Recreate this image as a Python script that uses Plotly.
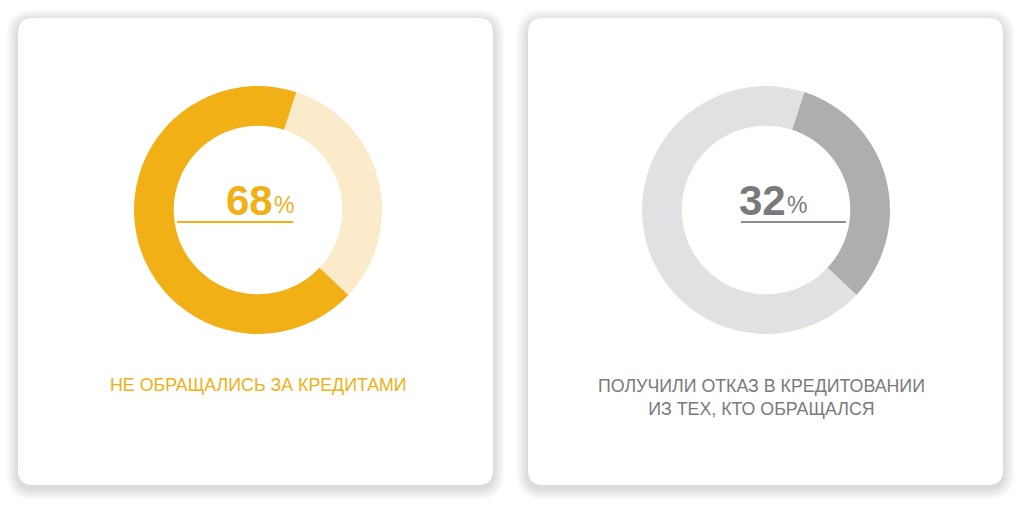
import plotly.graph_objects as go

# ---- data ----
left_values = [32, 68]          # [rest, main]
left_colors = ["#FCEBCB", "#F0B016"]
left_pct = "68"
left_label = "НЕ ОБРАЩАЛИСЬ ЗА КРЕДИТАМИ"

right_values = [32, 68]         # [main, rest]
right_colors = ["#AEAEB1", "#E1E1E3"]
right_pct = "32"
right_label = "ПОЛУЧИЛИ ОТКАЗ В КРЕДИТОВАНИИ<br>ИЗ ТЕХ, КТО ОБРАЩАЛСЯ"

W, H = 1024, 514
GOLD = "#F0B016"
GRAY_TXT = "#7A7A7D"
FONT = "Liberation Sans, Arial, sans-serif"


def rrect(x0, y0, x1, y1, r):
    return (f"M {x0+r},{y0} L {x1-r},{y0} Q {x1},{y0} {x1},{y0+r} "
            f"L {x1},{y1-r} Q {x1},{y1} {x1-r},{y1} L {x0+r},{y1} "
            f"Q {x0},{y1} {x0},{y1-r} L {x0},{y0+r} Q {x0},{y0} {x0+r},{y0} Z")


cards = [(18, 18, 493, 485), (528, 18, 1003, 485)]
shapes = []
for (x0, y0, x1, y1) in cards:
    for d in range(12, 0, -1):
        shapes.append(dict(type="path", xref="x", yref="y", layer="below",
                           path=rrect(x0 - d, y0 - d + 3, x1 + d, y1 + d + 3, 15 + d),
                           fillcolor="rgba(0,0,0,0.012)", line=dict(width=0)))
    shapes.append(dict(type="path", xref="x", yref="y", layer="below",
                       path=rrect(x0, y0, x1, y1, 15),
                       fillcolor="white", line=dict(width=0)))

# underlines
shapes.append(dict(type="line", xref="x", yref="y", x0=177, x1=293, y0=222, y1=222,
                   line=dict(color=GOLD, width=2)))
shapes.append(dict(type="line", xref="x", yref="y", x0=741, x1=846, y0=222, y1=222,
                   line=dict(color="#8C8C8F", width=2)))


def dom(cx, cy, r):
    return dict(x=[(cx - r) / W, (cx + r) / W], y=[1 - (cy + r) / H, 1 - (cy - r) / H])


fig = go.Figure()
fig.add_trace(go.Scatter(x=[0, W], y=[0, H], mode="markers",
                         marker=dict(opacity=0), hoverinfo="skip", showlegend=False))
fig.add_trace(go.Pie(values=left_values, marker=dict(colors=left_colors, line=dict(width=0)),
                     hole=0.68, sort=False, direction="clockwise", rotation=18,
                     textinfo="none", hoverinfo="skip", showlegend=False,
                     domain=dom(258, 210, 124)))
fig.add_trace(go.Pie(values=right_values, marker=dict(colors=right_colors, line=dict(width=0)),
                     hole=0.68, sort=False, direction="clockwise", rotation=18,
                     textinfo="none", hoverinfo="skip", showlegend=False,
                     domain=dom(766, 210, 124)))

ann = []
# big numbers
ann.append(dict(x=275, y=200, text=f"<b>{left_pct}</b>", xanchor="right", yanchor="middle",
                font=dict(size=42, color=GOLD, family=FONT)))
ann.append(dict(x=272, y=205, text="%", xanchor="left", yanchor="middle",
                font=dict(size=23, color=GOLD, family=FONT)))
ann.append(dict(x=788, y=200, text=f"<b>{right_pct}</b>", xanchor="right", yanchor="middle",
                font=dict(size=42, color=GRAY_TXT, family=FONT)))
ann.append(dict(x=785, y=205, text="%", xanchor="left", yanchor="middle",
                font=dict(size=23, color=GRAY_TXT, family=FONT)))
# labels
ann.append(dict(x=258, y=385, text=left_label, xanchor="center", yanchor="middle",
                font=dict(size=17.8, color=GOLD, family=FONT)))
ann.append(dict(x=761, y=397, text=right_label, xanchor="center", yanchor="middle",
                align="center", font=dict(size=17.8, color=GRAY_TXT, family=FONT)))
for a in ann:
    a.update(xref="x", yref="y", showarrow=False)

fig.update_layout(
    width=W, height=H, margin=dict(l=0, r=0, t=0, b=0),
    paper_bgcolor="white", plot_bgcolor="white",
    xaxis=dict(range=[0, W], visible=False, fixedrange=True),
    yaxis=dict(range=[H, 0], visible=False, fixedrange=True),
    shapes=shapes, annotations=ann, showlegend=False,
)
fig.write_html("out.html")
